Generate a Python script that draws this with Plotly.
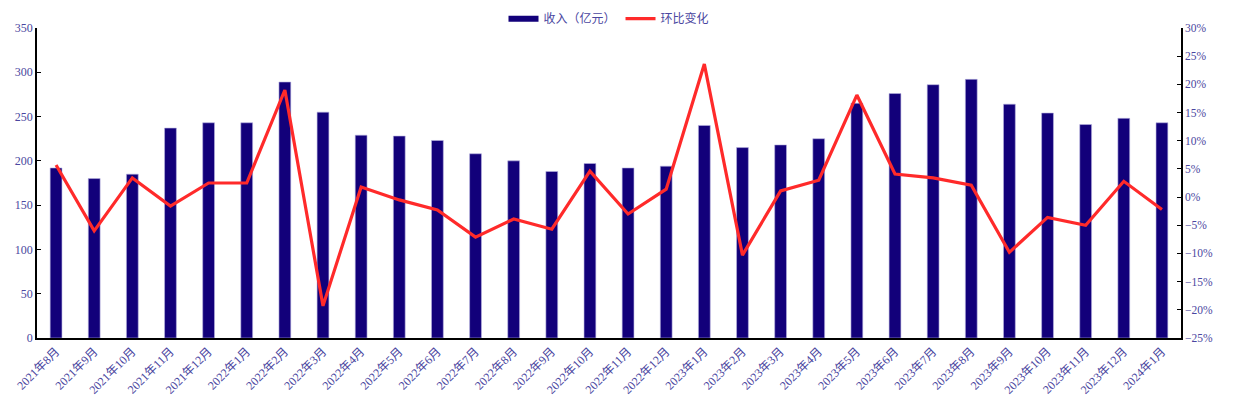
import plotly.graph_objects as go

# 月份
months = ["2021年8月", "2021年9月", "2021年10月", "2021年11月", "2021年12月",
          "2022年1月", "2022年2月", "2022年3月", "2022年4月", "2022年5月",
          "2022年6月", "2022年7月", "2022年8月", "2022年9月", "2022年10月",
          "2022年11月", "2022年12月", "2023年1月", "2023年2月", "2023年3月",
          "2023年4月", "2023年5月", "2023年6月", "2023年7月", "2023年8月",
          "2023年9月", "2023年10月", "2023年11月", "2023年12月", "2024年1月"]

# 收入（亿元）
revenue = [192, 180, 185, 237, 243, 243, 289, 255, 229, 228,
           223, 208, 200, 188, 197, 192, 194, 240, 215, 218,
           225, 265, 276, 286, 292, 264, 254, 241, 248, 243]

# 环比变化 (%)
mom = [5.7, -6.0, 3.4, -1.6, 2.5, 2.5, 19.0, -19.3, 1.8, -0.5,
       -2.3, -7.1, -3.9, -5.7, 4.6, -3.0, 1.4, 23.6, -10.3, 1.1,
       3.0, 18.1, 4.1, 3.4, 2.1, -9.8, -3.6, -5.0, 2.8, -2.2]

left_ticks = list(range(0, 351, 50))
right_ticks = list(range(-25, 31, 5))

txt_color = "#4a46a0"
bar_color = "#12007a"
font_fam = "Liberation Serif, Noto Sans CJK SC, serif"
tf = dict(family=font_fam, size=12, color=txt_color)

fig = go.Figure()
fig.add_trace(go.Bar(
    x=months, y=revenue, name="收入（亿元）", showlegend=False,
    marker=dict(color=bar_color, line=dict(color="#b8b4e0", width=0.6)),
    width=0.31,
))
# 图例用的粗线
fig.add_trace(go.Scatter(
    x=[None], y=[None], name="收入（亿元）", mode="lines",
    line=dict(color=bar_color, width=6),
))
fig.add_trace(go.Scatter(
    x=months, y=mom, name="环比变化", yaxis="y2",
    mode="lines", line=dict(color="#ff2a2a", width=3.2),
))

# 页面自带 8px 边距，这里扣掉
fig.update_layout(
    width=1235, height=402,
    margin=dict(l=29, r=62, t=20, b=72, autoexpand=False),
    paper_bgcolor="white", plot_bgcolor="white",
    font=dict(family=font_fam, size=12, color=txt_color),
    showlegend=True,
    legend=dict(orientation="h", x=0.5, xanchor="center", y=1.03, yanchor="middle",
                font=dict(family=font_fam, size=12, color=txt_color),
                bgcolor="rgba(0,0,0,0)"),
    xaxis=dict(
        type="category", tickangle=-45, showgrid=False, automargin=False,
        showline=True, linecolor="black", linewidth=1.5,
        ticks="", tickfont=tf,
    ),
    yaxis=dict(
        range=[0, 350], tickvals=left_ticks, showgrid=False, automargin=False,
        showline=True, linecolor="black", linewidth=1.5,
        ticks="inside", ticklen=4, tickcolor="black",
        tickfont=tf, zeroline=False,
    ),
    yaxis2=dict(
        overlaying="y", side="right", range=[-25, 30], automargin=False,
        tickvals=right_ticks, ticktext=[f"{v}%" if v >= 0 else f"\u2212{-v}%" for v in right_ticks],
        showgrid=False, showline=True, linecolor="black", linewidth=1.5,
        ticks="inside", ticklen=4, tickcolor="black",
        tickfont=dict(family=font_fam, size=11.5, color=txt_color), zeroline=False,
    ),
)

fig.write_html("out.html")
